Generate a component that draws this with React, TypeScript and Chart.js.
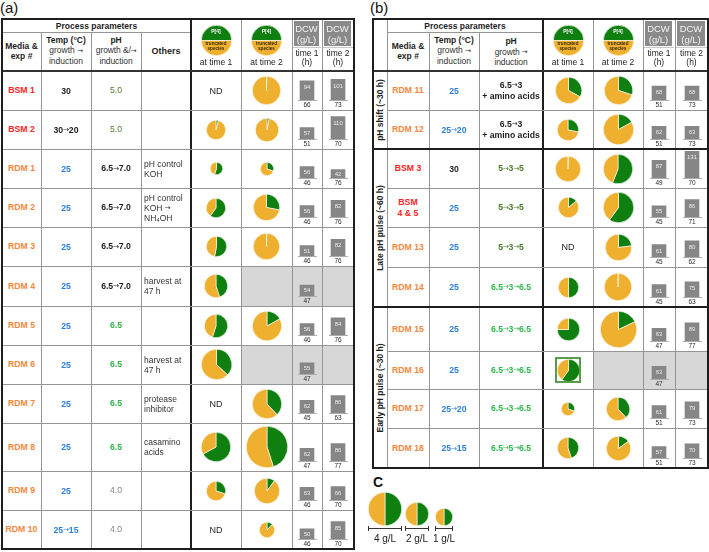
import React, { useEffect, useRef } from 'react';
import { Chart, registerables } from 'chart.js';
Chart.register(...registerables);

// ---------------- data: panel (a) ----------------
const aExps = ['BSM 1', 'BSM 2', 'RDM 1', 'RDM 2', 'RDM 3', 'RDM 4', 'RDM 5', 'RDM 6', 'RDM 7', 'RDM 8', 'RDM 9', 'RDM 10'];
const aTemps = ['30', '30→20', '25', '25', '25', '25', '25', '25', '25', '25', '25', '25→15'];
const aPH = ['5.0', '5.0', '6.5→7.0', '6.5→7.0', '6.5→7.0', '6.5→7.0', '6.5', '6.5', '6.5', '6.5', '4.0', '4.0'];
const aOthers = ['', '', 'pH control\nKOH', 'pH control\nKOH →\nNH₄OH', '', 'harvest at\n47 h', '', 'harvest at\n47 h', 'protease\ninhibitor', 'casamino\nacids', '', ''];
// pie totals (g/L) and fraction of P[4] (green)
const aPie1Total = [null, 1.33, 0.56, 1.37, 1.42, 1.89, 1.89, 3.24, null, 3.16, 1.33, null];
const aPie1Green = [null, 0.04, 0.55, 0.6, 0.53, 0.45, 0.55, 0.37, null, 0.67, 0.3, null];
const aPie2Total = [2.88, 1.94, 0.62, 2.42, 2.48, null, 3.02, null, 3.02, 6.27, 2.24, 0.79];
const aPie2Green = [0.004, 0.03, 0.3, 0.28, 0.004, null, 0.17, null, 0.38, 0.45, 0.1, 0.12];
const aDcw1 = [94, 57, 56, 56, 51, 54, 56, 55, 62, 62, 63, 50];
const aTime1 = [66, 51, 46, 46, 46, 47, 46, 47, 45, 47, 46, 46];
const aDcw2 = [101, 110, 42, 82, 82, null, 84, null, 86, 86, 66, 85];
const aTime2 = [73, 70, 76, 76, 76, null, 76, null, 63, 77, 70, 70];

// ---------------- data: panel (b) ----------------
const bGroups = ['pH shift (~30 h)', 'Late pH pulse (~60 h)', 'Early pH pulse (~30 h)'];
const bGroupSizes = [2, 4, 4];
const bExps = ['RDM 11', 'RDM 12', 'BSM 3', 'BSM\n4 & 5', 'RDM 13', 'RDM 14', 'RDM 15', 'RDM 16', 'RDM 17', 'RDM 18'];
const bTemps = ['25', '25→20', '30', '25', '25', '25', '25', '25', '25→20', '25→15'];
const bPH = ['6.5→3\n+ amino acids', '6.5→3\n+ amino acids', '5→3→5', '5→3→5', '5→3→5', '6.5→3→6.5', '6.5→3→6.5', '6.5→3→6.5', '6.5→3→6.5', '6.5→5→6.5'];
const bPie1Total = [2.48, 1.57, 2.24, 1.52, null, 1.47, 1.78, 1.78, 0.65, 1.67];
const bPie1Green = [0.33, 0.28, 0.004, 0.14, null, 0.5, 0.75, 0.6, 0.3, 0.45];
const bPie2Total = [2.81, 3.31, 3.09, 3.31, 2.55, 2.74, 4.84, null, 1.94, 2.12];
const bPie2Green = [0.3, 0.17, 0.56, 0.6, 0.23, 0.004, 0.18, null, 0.38, 0.15];
const bDcw1 = [68, 62, 87, 55, 61, 61, 63, 63, 61, 57];
const bTime1 = [51, 51, 49, 45, 45, 45, 47, 47, 51, 51];
const bDcw2 = [68, 63, 131, 86, 80, 75, 89, null, 79, 70];
const bTime2 = [73, 73, 70, 71, 62, 63, 77, null, 73, 73];
const bHighlighted = ['RDM 16'];

// ---------------- legend (C) ----------------
const legendTotals = [4, 2, 1];
const legendLabels = ['4 g/L', '2 g/L', '1 g/L'];

// ---------------- styles / layout ----------------
const GREEN = '#0f7f10';
const ORANGE = '#efb030';
const GRID = '#959595';
const DARK = '#1e1e1e';
const FONT = '"Liberation Sans", Arial, Helvetica, sans-serif';
const PIE_K = 16.5; // px diameter per sqrt(g/L)
const DCW_MAX = 137;

const expColor = (s: string) => (s.startsWith('BSM') ? '#fb2424' : '#f4873c');
const tempColor = (s: string) => (s.startsWith('25') ? '#2f80d8' : DARK);
const phStyle: Record<string, { color: string; weight: string }> = {
  '5.0': { color: '#4b7b2a', weight: 'normal' },
  '6.5→7.0': { color: DARK, weight: 'bold' },
  '6.5': { color: '#33b24a', weight: 'bold' },
  '4.0': { color: '#858585', weight: 'normal' },
  '6.5→3\n+ amino acids': { color: DARK, weight: 'bold' },
  '5→3→5': { color: '#4b7b2a', weight: 'bold' },
  '6.5→3→6.5': { color: '#2fb84c', weight: 'bold' },
  '6.5→5→6.5': { color: '#2fb84c', weight: 'bold' },
};

const A = {
  exp: [2, 41], temp: [41, 91], ph: [91, 141], oth: [141, 191],
  p1: [191, 241], p2: [241, 292], d1: [292, 322], d2: [322, 354],
  left: 2, right: 354, top: 19, sub: 32,
  rows: [71, 110, 149, 188, 227, 266, 306, 345, 384, 423, 471, 510, 549],
};
const B = {
  grp: [373, 387], exp: [387, 429], temp: [429, 479], ph: [479, 543],
  p1: [543, 593], p2: [593, 643], d1: [643, 675], d2: [675, 708],
  left: 373, right: 708, top: 19, sub: 32,
  rows: [71, 110, 149, 188, 227, 267, 307, 351, 389, 428, 468],
};

// ---------------- chart pieces ----------------
function PieChart(props: { cx: number; cy: number; total: number; green: number; size?: number; rotation?: number }) {
  const { cx, cy, total, green, rotation = 0 } = props;
  const d = props.size ?? Math.round(PIE_K * Math.sqrt(total)) + 1;
  const ref = useRef<HTMLCanvasElement>(null);
  useEffect(() => {
    const chart = new Chart(ref.current as HTMLCanvasElement, {
      type: 'pie',
      data: {
        labels: ['P[4]', 'truncated species'],
        datasets: [{
          data: [green * total, (1 - green) * total],
          backgroundColor: [GREEN, ORANGE],
          borderColor: '#ffffff',
          borderWidth: 0.6,
        }],
      },
      options: {
        responsive: false, animation: false, events: [], rotation,
        layout: { padding: 0 },
        plugins: { legend: { display: false }, tooltip: { enabled: false } },
      },
    } as any);
    return () => chart.destroy();
  }, []);
  return <canvas ref={ref} width={d} height={d} style={{ position: 'absolute', left: Math.round(cx - d / 2), top: Math.round(cy - d / 2), width: d, height: d }} />;
}

const barValuePlugin = {
  id: 'barValue',
  afterDatasetsDraw(chart: any) {
    const meta = chart.getDatasetMeta(0);
    const ctx = chart.ctx;
    meta.data.forEach((el: any, i: number) => {
      const v = chart.data.datasets[0].data[i];
      const h = el.base - el.y;
      ctx.save();
      ctx.fillStyle = '#ececec';
      ctx.font = `6px ${FONT}`;
      ctx.textAlign = 'center';
      ctx.textBaseline = 'middle';
      ctx.fillText(String(v), el.x, el.y + Math.min(6.5, h / 2));
      ctx.restore();
    });
  },
};

function DcwBar(props: { cx: number; bottom: number; value: number; time: number }) {
  const { cx, bottom, value, time } = props;
  const W = 22, Hh = 38;
  const ref = useRef<HTMLCanvasElement>(null);
  useEffect(() => {
    const chart = new Chart(ref.current as HTMLCanvasElement, {
      type: 'bar',
      data: {
        labels: [String(time)],
        datasets: [{ data: [value], backgroundColor: '#868686', barThickness: 14 }],
      },
      options: {
        responsive: false, animation: false, events: [],
        layout: { padding: { left: 2, right: 2, top: 0, bottom: 0 } },
        plugins: { legend: { display: false }, tooltip: { enabled: false } },
        scales: {
          x: {
            grid: { display: false, drawTicks: false },
            border: { display: true, color: '#b0b0b0', width: 1 },
            ticks: { color: '#2a2a2a', font: { size: 6.5, family: FONT }, padding: 1, maxRotation: 0, autoSkip: false },
          },
          y: { display: false, min: 0, max: DCW_MAX },
        },
      },
      plugins: [barValuePlugin],
    } as any);
    return () => chart.destroy();
  }, []);
  return <canvas ref={ref} width={W} height={Hh} style={{ position: 'absolute', left: Math.round(cx - W / 2), top: bottom - Hh + 1, width: W, height: Hh }} />;
}

// ---------------- layout helpers ----------------
let keyN = 0;
const k = () => 'k' + keyN++;
const HL = (x1: number, x2: number, y: number, w = 1, c = GRID) => (
  <div key={k()} style={{ position: 'absolute', left: x1, top: Math.round(y - w / 2), width: x2 - x1, height: w, background: c }} />
);
const VL = (x: number, y1: number, y2: number, w = 1, c = GRID) => (
  <div key={k()} style={{ position: 'absolute', left: Math.round(x - w / 2), top: y1, width: w, height: y2 - y1, background: c }} />
);
// one line of text with compact arrows
const arrows = (s: string) => {
  const parts = s.split('→');
  const res: any[] = [];
  parts.forEach((p, i) => {
    if (i > 0) res.push(
      <span key={'ar' + i} style={{
        display: 'inline-block', height: 6, lineHeight: '6px', fontSize: '0.85em', fontWeight: 'normal',
        margin: '0 -0.3px', fontFamily: '"DejaVu Sans", sans-serif', verticalAlign: '0.5px',
      }}>→</span>
    );
    if (p) res.push(<span key={'tx' + i}>{p}</span>);
  });
  return res;
};
// multi-line text: each line its own block
const lines = (s: string) => s.split('\n').map((ln, i) => <div key={'ln' + i}>{arrows(ln)}</div>);

const Txt = (x1: number, x2: number, y1: number, y2: number, content: any, style: any = {}) => {
  const { textAlign = 'center', justifyContent = 'center', ws = 'nowrap', ...rest } = style;
  return (
    <div key={k()} style={{
      position: 'absolute', left: x1, top: y1, width: x2 - x1, height: y2 - y1,
      display: 'flex', alignItems: 'center', justifyContent,
      fontFamily: FONT, fontSize: 8.5, lineHeight: '10px', color: DARK, ...rest,
    }}>
      <div style={{ textAlign, whiteSpace: ws }}>{typeof content === 'string' ? lines(content) : content}</div>
    </div>
  );
};
const Box = (x1: number, x2: number, y1: number, y2: number, bg: string) => (
  <div key={k()} style={{ position: 'absolute', left: x1, top: y1, width: x2 - x1, height: y2 - y1, background: bg }} />
);

function HeaderPie({ cx }: { cx: number }) {
  return (
    <>
      <PieChart cx={cx} cy={40} total={1} green={0.5} size={31} rotation={-90} />
      <div style={{ position: 'absolute', left: cx - 15, top: 28, width: 30, textAlign: 'center', fontFamily: FONT, fontSize: 5, fontWeight: 'bold', color: '#ffffff', lineHeight: '6px' }}>P[4]</div>
      <div style={{ position: 'absolute', left: cx - 15, top: 40.5, width: 30, textAlign: 'center', fontFamily: FONT, fontSize: 4.6, fontWeight: 'bold', color: '#3a2a05', lineHeight: '5px' }}>
        <div>truncated</div><div>species</div>
      </div>
    </>
  );
}

function panel(P: any, d: any) {
  const out: any[] = [];
  const n = d.exps.length;
  const bottom = P.rows[P.rows.length - 1];
  // gray cells (no time-2 sample)
  for (let i = 0; i < n; i++) {
    if (d.pie2T[i] == null && d.dcw2[i] == null) {
      out.push(Box(P.p2[0], P.d2[1], P.rows[i], P.rows[i + 1], '#d7d7d7'));
    }
  }
  // grid
  const paramStart = P.grp ? P.exp[0] : P.left;
  out.push(HL(paramStart, P.p1[0], P.sub));
  const paramInner = P.grp ? [P.temp[0], P.ph[0]] : [P.temp[0], P.ph[0], P.oth[0]];
  paramInner.forEach((x: number) => out.push(VL(x, P.sub, bottom)));
  if (P.grp) out.push(VL(P.exp[0], P.top, bottom));
  [P.p2[0], P.d1[0], P.d2[0]].forEach((x: number) => out.push(VL(x, P.top, bottom)));
  out.push(VL(P.p1[0], P.top, bottom, 2, DARK));
  out.push(HL(P.left, P.right, P.rows[0], 2, '#333'));
  const groupBounds: number[] = [];
  if (d.groupSizes) {
    let acc = 0;
    d.groupSizes.forEach((s: number) => { acc += s; groupBounds.push(acc); });
  }
  for (let i = 1; i < n; i++) {
    if (groupBounds.includes(i)) out.push(HL(P.left, P.right, P.rows[i], 2, DARK));
    else out.push(HL(P.grp ? P.exp[0] : P.left, P.right, P.rows[i]));
  }
  out.push(<div key={k()} style={{ position: 'absolute', left: P.left - 1, top: P.top - 1, width: P.right - P.left + 2, height: bottom - P.top + 2, border: `2px solid ${DARK}`, boxSizing: 'border-box' }} />);

  // header
  out.push(Txt(paramStart, P.p1[0], P.top, P.sub, 'Process parameters', { fontWeight: 'bold' }));
  out.push(Txt(P.exp[0], P.exp[1], P.sub, 70, 'Media &\nexp #', { fontWeight: 'bold' }));
  out.push(Txt(P.temp[0], P.temp[1], P.sub, 69, <><div style={{ fontWeight: 'bold', color: DARK }}>Temp (°C)</div>{lines('growth →\ninduction')}</>, { lineHeight: '10.5px', color: '#333' }));
  out.push(Txt(P.ph[0], P.ph[1], P.sub, d.phHeaderBottom, <><div style={{ fontWeight: 'bold', color: DARK }}>pH</div>{lines(d.phHeader + '\ninduction')}</>, { lineHeight: '10.5px', color: '#333', letterSpacing: '-0.1px' }));
  if (P.oth) out.push(Txt(P.oth[0], P.oth[1], P.sub, 70, 'Others', { fontWeight: 'bold', fontSize: 9 }));
  [P.p1, P.p2].forEach((c: number[], j: number) => {
    const cx = (c[0] + c[1]) / 2;
    out.push(<HeaderPie key={k()} cx={cx} />);
    out.push(Txt(c[0], c[1], 56, 68, 'at time ' + (j + 1), { color: '#222' }));
  });
  [P.d1, P.d2].forEach((c: number[], j: number) => {
    out.push(Box(c[0] + 2, c[1] - 3, 21, 46, '#8a8a8a'));
    out.push(Txt(c[0] + 2, c[1] - 3, 21, 46, 'DCW\n(g/L)', { color: '#f2f2f2', fontSize: 9.5, lineHeight: '11px' }));
    out.push(HL(c[0] + 1, c[1] - 1, 47.5, 1, '#c8c8c8'));
    out.push(Txt(c[0], c[1], 48, 67, 'time ' + (j + 1) + '\n(h)', { lineHeight: '9px', color: '#222' }));
  });

  // group labels
  if (P.grp) {
    let start = 0;
    d.groupSizes.forEach((s: number, gi: number) => {
      const y1 = P.rows[start], y2 = P.rows[start + s];
      const cy = (y1 + y2) / 2, cx = (P.grp[0] + P.grp[1]) / 2;
      out.push(<div key={k()} style={{ position: 'absolute', left: cx, top: cy, transform: 'translate(-50%, -50%) rotate(-90deg)', whiteSpace: 'nowrap', fontFamily: FONT, fontSize: 8.5, fontWeight: 'bold', color: DARK }}>{d.groups[gi]}</div>);
      start += s;
    });
  }

  // rows
  for (let i = 0; i < n; i++) {
    const y1 = P.rows[i], y2 = P.rows[i + 1];
    const cy = (y1 + y2) / 2;
    out.push(Txt(P.exp[0], P.exp[1], y1, y2, d.exps[i], { fontWeight: 'bold', color: expColor(d.exps[i]), fontSize: 8.7, lineHeight: '10.5px' }));
    out.push(Txt(P.temp[0], P.temp[1], y1, y2, d.temps[i], { fontWeight: 'bold', color: tempColor(d.temps[i]), fontSize: 8.7 }));
    const ps = phStyle[d.phs[i]];
    out.push(Txt(P.ph[0], P.ph[1], y1, y2, d.phs[i], { fontWeight: ps.weight, color: ps.color, fontSize: 8.7, lineHeight: '11px' }));
    if (P.oth && d.others[i]) {
      out.push(Txt(P.oth[0] + 3, P.oth[1], y1, y2, d.others[i], { justifyContent: 'flex-start', textAlign: 'left', color: '#333', lineHeight: '10px' }));
    }
    const c1 = (P.p1[0] + P.p1[1]) / 2, c2 = (P.p2[0] + P.p2[1]) / 2;
    if (d.pie1T[i] != null) out.push(<PieChart key={k()} cx={c1} cy={cy} total={d.pie1T[i]} green={d.pie1G[i]} />);
    else out.push(Txt(P.p1[0], P.p1[1], y1, y2, 'ND', { fontSize: 9 }));
    if (d.highlighted && d.highlighted.includes(d.exps[i])) {
      out.push(<div key={k()} style={{ position: 'absolute', left: c1 - 13, top: cy - 13, width: 26, height: 26, border: '2px solid #5b9c4c', boxSizing: 'border-box' }} />);
    }
    if (d.pie2T[i] != null) out.push(<PieChart key={k()} cx={c2} cy={cy} total={d.pie2T[i]} green={d.pie2G[i]} />);
    else if (d.dcw2[i] != null) out.push(Txt(P.p2[0], P.p2[1], y1, y2, 'ND', { fontSize: 9 }));
    out.push(<DcwBar key={k()} cx={(P.d1[0] + P.d1[1]) / 2} bottom={y2 - 1} value={d.dcw1[i]} time={d.time1[i]} />);
    if (d.dcw2[i] != null) out.push(<DcwBar key={k()} cx={(P.d2[0] + P.d2[1]) / 2} bottom={y2 - 1} value={d.dcw2[i]} time={d.time2[i]} />);
  }
  return out;
}

export default function App() {
  keyN = 0;
  const aData = {
    exps: aExps, temps: aTemps, phs: aPH, others: aOthers, phHeader: 'growth &/→', phHeaderBottom: 69,
    pie1T: aPie1Total, pie1G: aPie1Green, pie2T: aPie2Total, pie2G: aPie2Green,
    dcw1: aDcw1, time1: aTime1, dcw2: aDcw2, time2: aTime2,
  };
  const bData = {
    exps: bExps, temps: bTemps, phs: bPH, phHeader: 'growth →', phHeaderBottom: 72, groups: bGroups, groupSizes: bGroupSizes,
    pie1T: bPie1Total, pie1G: bPie1Green, pie2T: bPie2Total, pie2G: bPie2Green,
    dcw1: bDcw1, time1: bTime1, dcw2: bDcw2, time2: bTime2, highlighted: bHighlighted,
  };
  const legendCx = [385, 417, 444];
  const legendBottom = 526;
  return (
    <div style={{ position: 'absolute', left: 0, top: 0, width: 709, height: 552, background: '#ffffff', overflow: 'hidden' }}>
      <div style={{ position: 'absolute', left: 0, top: -1, fontFamily: FONT, fontSize: 15, color: '#111' }}>(a)</div>
      <div style={{ position: 'absolute', left: 370, top: -1, fontFamily: FONT, fontSize: 15, color: '#111' }}>(b)</div>
      {panel(A, aData)}
      {panel(B, bData)}
      <div style={{ position: 'absolute', left: 373, top: 474, fontFamily: FONT, fontSize: 14, fontWeight: 'bold', color: '#111' }}>C</div>
      {legendTotals.map((t, i) => {
        const d = Math.round(PIE_K * Math.sqrt(t)) + 1;
        const cx = legendCx[i];
        return (
          <React.Fragment key={'lg' + i}>
            <PieChart cx={cx} cy={legendBottom - d / 2} total={t} green={0.5} />
            <div style={{ position: 'absolute', left: cx - d / 2, top: 528, width: d, height: 1, background: '#333' }} />
            <div style={{ position: 'absolute', left: cx - d / 2, top: 526, width: 1, height: 5, background: '#333' }} />
            <div style={{ position: 'absolute', left: cx + d / 2 - 1, top: 526, width: 1, height: 5, background: '#333' }} />
            <div style={{ position: 'absolute', left: cx - 20, top: 533, width: 40, textAlign: 'center', fontFamily: FONT, fontSize: 10, color: '#222' }}>{legendLabels[i]}</div>
          </React.Fragment>
        );
      })}
    </div>
  );
}
